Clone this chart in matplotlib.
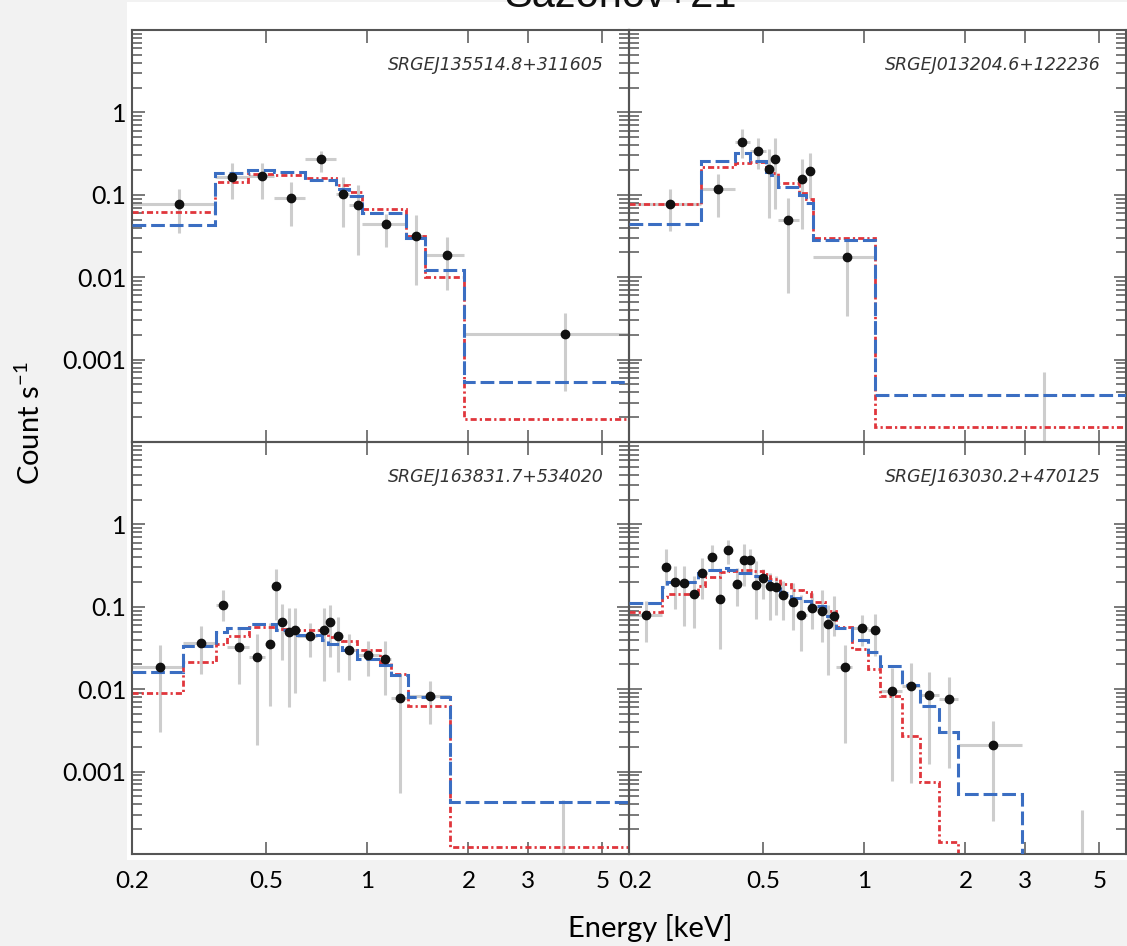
import numpy as np
import matplotlib
matplotlib.use("Agg")
import matplotlib.pyplot as plt
from matplotlib.patches import Rectangle
from matplotlib.transforms import ScaledTranslation
from matplotlib.ticker import FixedLocator, FixedFormatter, LogLocator, NullFormatter, NullLocator

plt.rcParams["font.family"] = ["Lato", "DejaVu Sans"]
plt.rcParams["mathtext.fontset"] = "custom"
plt.rcParams["mathtext.rm"] = "Lato"
plt.rcParams["mathtext.it"] = "Lato:italic"

# ---- data (energy in keV, rate in count/s) ----
# top left: SRGEJ135514.8+311605
tl_e = [0.276, 0.397, 0.488, 0.594, 0.731, 0.850, 0.936, 1.137, 1.396, 1.722, 3.875]
tl_elo = [0.2, 0.353, 0.443, 0.529, 0.652, 0.807, 0.884, 0.968, 1.304, 1.488, 1.934]
tl_ehi = [0.353, 0.443, 0.529, 0.652, 0.807, 0.884, 0.968, 1.304, 1.488, 1.934, 6.0]
tl_y = [0.0764, 0.1655, 0.168, 0.0919, 0.2685, 0.101, 0.0762, 0.0439, 0.032, 0.01866, 0.00205]
tl_ylo = [0.0345, 0.090, 0.090, 0.0416, 0.188, 0.0404, 0.01845, 0.0231, 0.00797, 0.00693, 0.000411]
tl_yhi = [0.118, 0.245, 0.245, 0.142, 0.339, 0.164, 0.132, 0.0588, 0.0576, 0.0309, 0.00368]
tl_edges = [0.2, 0.353, 0.443, 0.529, 0.652, 0.807, 0.884, 0.968, 1.304, 1.488, 1.934, 6.0]
tl_blue = [0.0428, 0.185, 0.199, 0.188, 0.153, 0.116, 0.096, 0.0604, 0.030, 0.01236, 0.000534]
tl_red = [0.0615, 0.144, 0.177, 0.173, 0.161, 0.130, 0.1076, 0.0676, 0.0314, 0.00997, 0.00019]

# top right: SRGEJ013204.6+122236
tr_e = [0.264, 0.369, 0.4345, 0.4836, 0.5215, 0.545, 0.595, 0.654, 0.691, 0.892, 3.43]
tr_elo = [0.2, 0.327, 0.412, 0.459, 0.510, 0.530, 0.555, 0.640, 0.671, 0.705, 1.076]
tr_ehi = [0.327, 0.412, 0.459, 0.510, 0.530, 0.555, 0.640, 0.671, 0.705, 1.076, 6.0]
tr_y = [0.0778, 0.116, 0.4406, 0.336, 0.207, 0.271, 0.0491, 0.156, 0.195, 0.0176, 5e-5]
tr_ylo = [0.0361, 0.0534, 0.281, 0.203, 0.0525, 0.0676, 0.00645, 0.0386, 0.0919, 0.00335, 1e-6]
tr_yhi = [0.118, 0.177, 0.621, 0.483, 0.355, 0.483, 0.0919, 0.274, 0.318, 0.0286, 0.000707]
tr_edges = [0.2, 0.327, 0.412, 0.459, 0.510, 0.530, 0.555, 0.640, 0.671, 0.705, 1.076, 6.0]
tr_blue = [0.0448, 0.256, 0.318, 0.256, 0.188, 0.173, 0.125, 0.099, 0.0799, 0.0286, 0.000367]
tr_red = [0.0777, 0.216, 0.245, 0.247, 0.207, 0.185, 0.138, 0.1057, 0.0877, 0.030, 0.00015]

# bottom left: SRGEJ163831.7+534020
bl_e = [0.242, 0.3206, 0.372, 0.417, 0.4716, 0.513, 0.537, 0.560, 0.586, 0.609,
        0.677, 0.746, 0.776, 0.818, 0.884, 1.007, 1.131, 1.248, 1.54, 3.81]
bl_elo = [0.2, 0.284, 0.356, 0.384, 0.445, 0.497, 0.527, 0.548, 0.573, 0.597,
          0.62, 0.71, 0.762, 0.795, 0.845, 0.93, 1.091, 1.176, 1.318, 1.762]
bl_ehi = [0.284, 0.356, 0.384, 0.445, 0.497, 0.527, 0.548, 0.573, 0.597, 0.62,
          0.71, 0.762, 0.795, 0.845, 0.93, 1.091, 1.176, 1.318, 1.762, 6.0]
bl_y = [0.01845, 0.0365, 0.1038, 0.0323, 0.0247, 0.0358, 0.1765, 0.065, 0.0497, 0.0526,
        0.044, 0.053, 0.065, 0.044, 0.0297, 0.0258, 0.0235, 0.0079, 0.0082, 5e-5]
bl_ylo = [0.00299, 0.01535, 0.0668, 0.0116, 0.00208, 0.0062, 0.0701, 0.0223, 0.00604, 0.0090,
          0.0247, 0.01247, 0.0247, 0.0161, 0.0128, 0.01435, 0.0086, 0.00055, 0.00382, 1e-6]
bl_yhi = [0.0342, 0.0593, 0.159, 0.0565, 0.047, 0.0639, 0.284, 0.1096, 0.0954, 0.0954,
          0.0639, 0.0954, 0.1066, 0.0748, 0.047, 0.0382, 0.0382, 0.01535, 0.01273, 0.000456]
bl_edges = [0.2, 0.284, 0.356, 0.384, 0.445, 0.535, 0.573, 0.620, 0.736, 0.767, 0.841,
            0.930, 1.091, 1.176, 1.318, 1.762, 6.0]
bl_blue = [0.0161, 0.0332, 0.0492, 0.0555, 0.0621, 0.0525, 0.0505, 0.046, 0.040, 0.0358,
           0.0303, 0.0235, 0.0194, 0.01504, 0.00797, 0.000423]
bl_red = [0.0090, 0.0215, 0.0355, 0.0448, 0.0572, 0.0545, 0.0535, 0.053, 0.050, 0.0436,
          0.0382, 0.0297, 0.0209, 0.01548, 0.0062, 0.000123]

# bottom right: SRGEJ163030.2+470125
br_e = [0.225, 0.257, 0.2733, 0.2912, 0.311, 0.3296, 0.352, 0.3736, 0.393, 0.419, 0.4395,
        0.458, 0.478, 0.5017, 0.524, 0.546, 0.575, 0.614, 0.65, 0.702, 0.748, 0.783,
        0.816, 0.876, 0.982, 1.076, 1.206, 1.374, 1.561, 1.79, 2.41, 4.43]
br_elo = [0.2, 0.251, 0.265, 0.282, 0.30, 0.32, 0.34, 0.363, 0.383, 0.405, 0.429,
          0.449, 0.468, 0.49, 0.513, 0.535, 0.56, 0.594, 0.632, 0.675, 0.725, 0.765,
          0.80, 0.827, 0.917, 1.028, 1.114, 1.291, 1.465, 1.672, 1.905, 2.94]
br_ehi = [0.251, 0.265, 0.282, 0.30, 0.32, 0.34, 0.363, 0.383, 0.405, 0.429, 0.449,
          0.468, 0.49, 0.513, 0.535, 0.56, 0.594, 0.632, 0.675, 0.725, 0.765, 0.80,
          0.827, 0.917, 1.028, 1.114, 1.291, 1.465, 1.672, 1.905, 2.94, 6.0]
br_y = [0.079, 0.300, 0.2013, 0.197, 0.145, 0.259, 0.401, 0.125, 0.487, 0.19, 0.368,
        0.368, 0.1815, 0.221, 0.178, 0.173, 0.14, 0.115, 0.0806, 0.0973, 0.090, 0.0627,
        0.0784, 0.01866, 0.0556, 0.053, 0.00944, 0.01084, 0.0086, 0.00769, 0.00212, 5e-5]
br_ylo = [0.0371, 0.1815, 0.0945, 0.0593, 0.0556, 0.125, 0.271, 0.0309, 0.327, 0.1017, 0.178,
          0.259, 0.0721, 0.1227, 0.0701, 0.0806, 0.0701, 0.053, 0.0289, 0.054, 0.0371, 0.01504,
          0.044, 0.00222, 0.033, 0.0251, 0.00076, 0.000727, 0.00124, 0.00111, 0.000248, 1e-6]
br_yhi = [0.117, 0.497, 0.312, 0.312, 0.2355, 0.394, 0.556, 0.259, 0.65, 0.298, 0.572,
          0.497, 0.358, 0.284, 0.259, 0.2355, 0.205, 0.195, 0.141, 0.148, 0.162, 0.1066,
          0.137, 0.0348, 0.0806, 0.0822, 0.01815, 0.0209, 0.0162, 0.0141, 0.00407, 0.000338]
br_edges = [0.2, 0.251, 0.26, 0.3206, 0.3357, 0.372, 0.3938, 0.417, 0.4674, 0.5005, 0.524,
            0.561, 0.6075, 0.658, 0.697, 0.764, 0.827, 0.917, 1.028, 1.114, 1.291, 1.465,
            1.672, 1.905, 2.94, 6.0]
br_blue = [0.112, 0.175, 0.199, 0.259, 0.2786, 0.298, 0.2765, 0.259, 0.2355, 0.205, 0.178,
           0.148, 0.1286, 0.117, 0.1017, 0.0769, 0.0556, 0.040, 0.0286, 0.01935, 0.01115,
           0.0062, 0.00303, 0.00054, 5e-5]
br_red = [0.086, 0.13, 0.145, 0.178, 0.231, 0.266, 0.27, 0.2786, 0.272, 0.252, 0.215,
          0.1866, 0.162, 0.152, 0.115, 0.088, 0.0572, 0.0309, 0.0178, 0.0082, 0.00268,
          0.00074, 0.00014, 2e-5, 2e-5]

names = ["SRGEJ135514.8+311605", "SRGEJ013204.6+122236",
         "SRGEJ163831.7+534020", "SRGEJ163030.2+470125"]
xticks = [0.2, 0.5, 1, 2, 3, 5]
xticklabels = ["0.2", "0.5", "1", "2", "3", "5"]
yticks = [1e-4, 1e-3, 1e-2, 1e-1, 1, 10]
yticklabels = ["", "0.001", "0.01", "0.1", "1", ""]

panels = [
    (tl_e, tl_elo, tl_ehi, tl_y, tl_ylo, tl_yhi, tl_edges, tl_blue, tl_red),
    (tr_e, tr_elo, tr_ehi, tr_y, tr_ylo, tr_yhi, tr_edges, tr_blue, tr_red),
    (bl_e, bl_elo, bl_ehi, bl_y, bl_ylo, bl_yhi, bl_edges, bl_blue, bl_red),
    (br_e, br_elo, br_ehi, br_y, br_ylo, br_yhi, br_edges, br_blue, br_red),
]

W, H = 1127, 946
fig = plt.figure(figsize=(W / 100, H / 100), dpi=100, facecolor="#f2f2f2")
# white canvas behind the panels
fig.patches.append(Rectangle((127 / W, 1 - 860 / H), 1000 / W, 858 / H,
                             transform=fig.transFigure, facecolor="white",
                             edgecolor="none", zorder=-10))

ax_w = 497 / W
ax_h = 412 / H
lefts = [132 / W, 629 / W]
bottoms = [1 - 442 / H, 1 - 854 / H]

grey = "#555555"
for k, (e, elo, ehi, y, ylo, yhi, edges, blue, red) in enumerate(panels):
    row, col = divmod(k, 2)
    ax = fig.add_axes([lefts[col], bottoms[row], ax_w, ax_h])
    ax.patch.set_alpha(0)
    ax.set_xscale("log")
    ax.set_yscale("log")
    e = np.array(e); y = np.array(y)
    xerr = [e - np.array(elo), np.array(ehi) - e]
    yerr = [y - np.array(ylo), np.array(yhi) - y]
    ax.errorbar(e, y, xerr=xerr, yerr=yerr, fmt="none", ecolor="#cdcdcd",
                elinewidth=2.2, capsize=0, zorder=1)
    ax.stairs(red, edges, baseline=None, color="#e0363c", lw=2.0,
              linestyle=(0, (2.2, 1.1, 0.8, 1.1)), zorder=2)
    ax.stairs(blue, edges, baseline=None, color="#3b6ec2", lw=2.2,
              linestyle=(0, (4.5, 1.6)), zorder=3)
    ax.plot(e, y, "o", color="#111111", ms=6, zorder=4)

    ax.set_xlim(0.2, 6.0)
    ax.set_ylim(1e-4, 10)
    ax.xaxis.set_major_locator(FixedLocator(xticks))
    ax.xaxis.set_minor_locator(NullLocator())
    ax.yaxis.set_major_locator(FixedLocator(yticks))
    ax.yaxis.set_minor_locator(LogLocator(base=10, subs=np.arange(2, 10)))
    ax.yaxis.set_minor_formatter(NullFormatter())
    if row == 1:
        ax.xaxis.set_major_formatter(FixedFormatter(xticklabels))
    else:
        ax.xaxis.set_major_formatter(NullFormatter())
    if col == 0:
        ax.yaxis.set_major_formatter(FixedFormatter(yticklabels))
    else:
        ax.yaxis.set_major_formatter(NullFormatter())
    ax.tick_params(which="both", direction="in", top=True, right=True,
                   color=grey, width=1.1)
    ax.tick_params(which="major", length=9)
    ax.tick_params(which="minor", length=7)
    ax.tick_params(axis="x", which="major", labelsize=17.5, pad=12)
    ax.tick_params(axis="y", which="major", labelsize=18, pad=4)
    for sp in ax.spines.values():
        sp.set_color(grey)
        sp.set_linewidth(1.5)
    if row == 1 and col == 1:
        # nudge the first label so it does not run into the "5" of the left panel
        first = ax.xaxis.get_major_ticks()[0].label1
        first.set_transform(first.get_transform() +
                            ScaledTranslation(6 / 100, 0, fig.dpi_scale_trans))
    ax.text(0.948, 0.915, names[k], transform=ax.transAxes, ha="right", va="center",
            fontsize=12.5, style="italic", family="DejaVu Sans", color="#333333")

fig.text(620 / W, 1 - 7 / H, "Sazonov+21", ha="center", va="baseline",
         fontsize=30, family="Liberation Sans", color="#111111")
fig.text(30 / W, 1 - 423 / H, "Count s$^{-1}$", rotation=90, ha="center", va="center",
         fontsize=21)
fig.text(650 / W, 1 - 928 / H, "Energy [keV]", ha="center", va="center", fontsize=21)

fig.savefig("out.png", dpi=100, facecolor=fig.get_facecolor())
